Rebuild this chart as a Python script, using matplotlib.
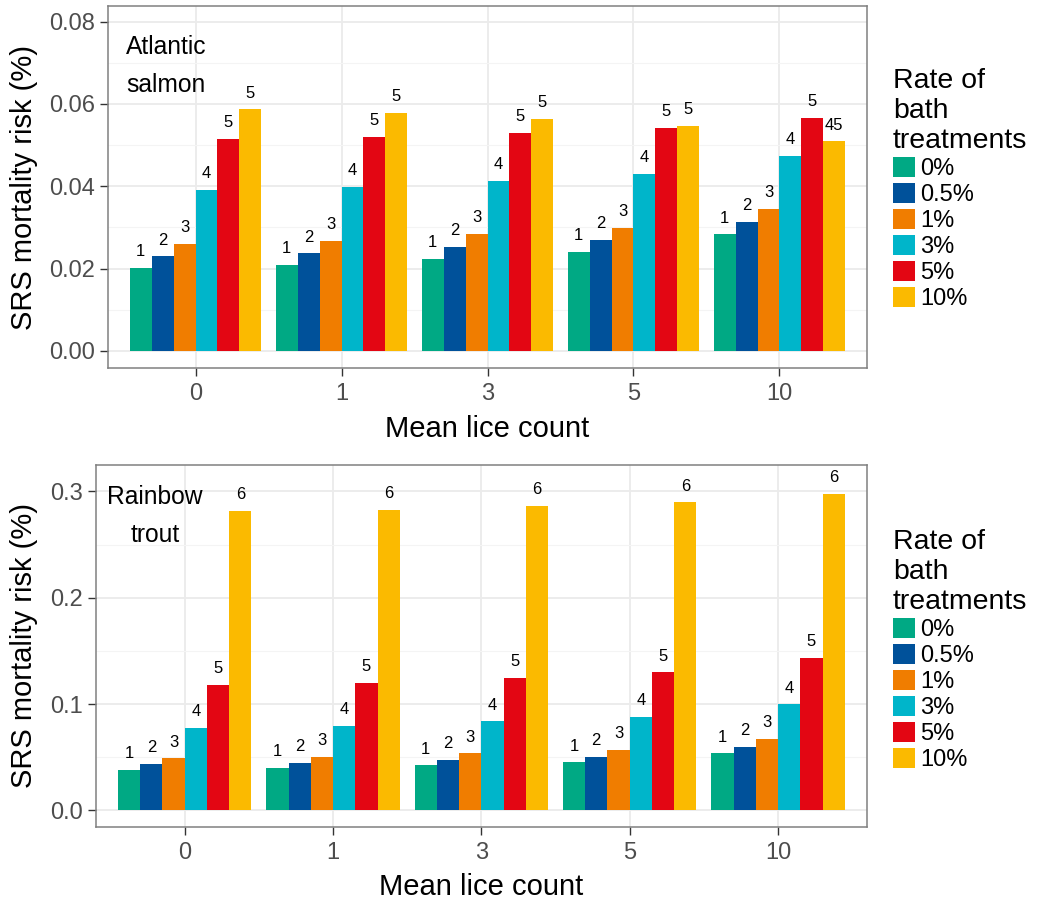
import numpy as np
import matplotlib
matplotlib.use("Agg")
import matplotlib.pyplot as plt
from matplotlib.patches import Patch

plt.rcParams["font.family"] = ["Liberation Sans", "DejaVu Sans"]

# ---- data -------------------------------------------------------------
LICE = ["0", "1", "3", "5", "10"]
RATES = ["0%", "0.5%", "1%", "3%", "5%", "10%"]
COLORS = ["#00A984", "#00519A", "#F07D00", "#00B5CA", "#E30613", "#FBBA00"]

# one list per bath-treatment rate, values across mean lice count
salmon_0 = [0.0202, 0.0209, 0.0224, 0.0240, 0.0283]
salmon_05 = [0.0230, 0.0237, 0.0252, 0.0270, 0.0314]
salmon_1 = [0.0260, 0.0268, 0.0284, 0.0299, 0.0346]
salmon_3 = [0.0391, 0.0398, 0.0413, 0.0430, 0.0473]
salmon_5 = [0.0516, 0.0521, 0.0530, 0.0541, 0.0566]
salmon_10 = [0.0587, 0.0578, 0.0563, 0.0546, 0.0509]

trout_0 = [0.0382, 0.0398, 0.0423, 0.0451, 0.0536]
trout_05 = [0.0436, 0.0448, 0.0476, 0.0504, 0.0598]
trout_1 = [0.0489, 0.0504, 0.0536, 0.0567, 0.0668]
trout_3 = [0.0774, 0.0796, 0.0837, 0.0881, 0.0997]
trout_5 = [0.1179, 0.1198, 0.1248, 0.1298, 0.1436]
trout_10 = [0.2813, 0.2828, 0.2863, 0.2897, 0.2978]

salmon_lab = [["1"] * 5, ["2"] * 5, ["3"] * 5, ["4"] * 5, ["5"] * 5,
              ["5", "5", "5", "5", "45"]]
trout_lab = [["1"] * 5, ["2"] * 5, ["3"] * 5, ["4"] * 5, ["5"] * 5, ["6"] * 5]

SALMON_TICKS = [0.0, 0.02, 0.04, 0.06, 0.08]
SALMON_TICKLAB = ["0.00", "0.02", "0.04", "0.06", "0.08"]
TROUT_TICKS = [0.0, 0.1, 0.2, 0.3]
TROUT_TICKLAB = ["0.0", "0.1", "0.2", "0.3"]

W, H = 1044, 900
TICK_C = "#4D4D4D"
BAR_W = 0.9 / 6


def panel(ax, series, labels, yticks, yticklab, ylim, minor, species, sp_y):
    x = np.arange(len(LICE))
    for j, (vals, labs) in enumerate(zip(series, labels)):
        xs = x + (j - 2.5) * BAR_W
        ax.bar(xs, vals, width=BAR_W, color=COLORS[j], linewidth=0, zorder=2)
        for xi, v, t in zip(xs, vals, labs):
            ax.annotate(t, (xi, v), xytext=(0, 8.5), textcoords="offset points",
                        ha="center", va="baseline", fontsize=12, zorder=3)
    ax.set_xlim(-0.6, len(LICE) - 0.4)
    ax.set_ylim(*ylim)
    ax.set_xticks(x)
    ax.set_xticklabels(LICE)
    ax.set_yticks(yticks)
    ax.set_yticklabels(yticklab)
    ax.set_yticks(minor, minor=True)
    ax.tick_params(axis="y", which="minor", length=0)
    ax.grid(True, which="major", color="#EBEBEB", lw=1.3, zorder=0)
    ax.grid(True, which="minor", axis="y", color="#F4F4F4", lw=0.8, zorder=0)
    ax.set_axisbelow(True)
    for s in ax.spines.values():
        s.set_color("#808080")
        s.set_linewidth(1.1)
    ax.tick_params(axis="both", which="major", labelsize=17, colors="#333333",
                   labelcolor=TICK_C, length=6, width=1.0)
    ax.tick_params(axis="y", pad=3)
    ax.tick_params(axis="x", pad=5)
    ax.text(-0.2, sp_y, species, ha="center", va="center", fontsize=17.7,
            linespacing=1.75, zorder=4)
    ax.set_xlabel("Mean lice count", fontsize=21)
    ax.set_ylabel("SRS mortality risk (%)", fontsize=21)


fig = plt.figure(figsize=(W / 100, H / 100), dpi=100)
ax1 = fig.add_axes([108 / W, 1 - 368 / H, 759 / W, 362 / H])
ax2 = fig.add_axes([95.7 / W, 1 - 827 / H, 771.3 / W, 362.3 / H])

panel(ax1, [salmon_0, salmon_05, salmon_1, salmon_3, salmon_5, salmon_10],
      salmon_lab, SALMON_TICKS, SALMON_TICKLAB, (-0.00413, 0.0838),
      [0.01, 0.03, 0.05, 0.07], "Atlantic\nsalmon", 0.0693)
panel(ax2, [trout_0, trout_05, trout_1, trout_3, trout_5, trout_10],
      trout_lab, TROUT_TICKS, TROUT_TICKLAB, (-0.0157, 0.3251),
      [0.05, 0.15, 0.25], "Rainbow\ntrout", 0.2769)

ax1.xaxis.set_label_coords(487.5 / W, 1 - 415 / H, transform=fig.transFigure)
ax2.xaxis.set_label_coords(481.4 / W, 1 - 873 / H, transform=fig.transFigure)
ax1.yaxis.set_label_coords(38 / W, 1 - 187 / H, transform=fig.transFigure)
ax2.yaxis.set_label_coords(38 / W, 1 - 646 / H, transform=fig.transFigure)

handles = [Patch(facecolor=c, edgecolor="none") for c in COLORS]
for top in (68, 529):
    fig.legend(handles, RATES, title="Rate of\nbath\ntreatments",
               loc="upper left", bbox_to_anchor=(893 / W, 1 - top / H),
               frameon=False, fontsize=17, title_fontsize=20.5,
               alignment="left", borderpad=0, borderaxespad=0,
               handlelength=0.94, handleheight=0.94, handletextpad=0.22,
               labelspacing=0.12)

fig.savefig("out.png", dpi=100)
